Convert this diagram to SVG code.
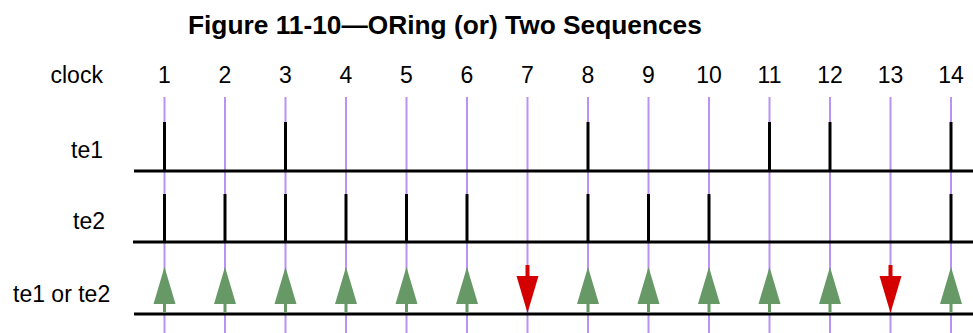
<svg xmlns="http://www.w3.org/2000/svg" xmlns:xlink="http://www.w3.org/1999/xlink" width="973" height="333" viewBox="0 0 973 333">
<style>
text{font-family:"Liberation Sans",Arial,sans-serif;fill:#000}
.t{font-size:26.3px;font-weight:bold}
.l{font-size:23px}
.n{font-size:23px;text-anchor:middle}
.grid line{stroke:#b892f5;stroke-width:2}
.base{stroke:#000;stroke-width:3}
.tick{stroke:#000;stroke-width:3}
</style>
<defs>
<g id="up"><polygon points="-11,304 0,267 11,304" fill="#669966"/><rect x="-1.5" y="303" width="3" height="10" fill="#669966"/></g>
<g id="down"><rect x="-2" y="265" width="4" height="12" fill="#d40000"/><polygon points="-11,276 11,276 0,313" fill="#d40000"/></g>
</defs>
<rect width="973" height="333" fill="#fff"/>
<text class="t" x="188" y="34">Figure 11-10—ORing (or) Two Sequences</text>
<g id="labels">
<text class="l" x="50.5" y="83">clock</text>
<text class="l" x="71" y="157.5">te1</text>
<text class="l" x="73" y="229">te2</text>
<text class="l" x="13" y="301.5">te1 or te2</text>
</g>
<g id="clock-numbers">
<text class="n" x="164.5" y="83">1</text>
<text class="n" x="225" y="83">2</text>
<text class="n" x="285.5" y="83">3</text>
<text class="n" x="346" y="83">4</text>
<text class="n" x="406.5" y="83">5</text>
<text class="n" x="467" y="83">6</text>
<text class="n" x="527.5" y="83">7</text>
<text class="n" x="588" y="83">8</text>
<text class="n" x="648.5" y="83">9</text>
<text class="n" x="709" y="83">10</text>
<text class="n" x="769.5" y="83">11</text>
<text class="n" x="830" y="83">12</text>
<text class="n" x="890.5" y="83">13</text>
<text class="n" x="951" y="83">14</text>
</g>
<g id="grid" class="grid">
<line x1="164.5" y1="97" x2="164.5" y2="333"/>
<line x1="225" y1="97" x2="225" y2="333"/>
<line x1="285.5" y1="97" x2="285.5" y2="333"/>
<line x1="346" y1="97" x2="346" y2="333"/>
<line x1="406.5" y1="97" x2="406.5" y2="333"/>
<line x1="467" y1="97" x2="467" y2="333"/>
<line x1="527.5" y1="97" x2="527.5" y2="333"/>
<line x1="588" y1="97" x2="588" y2="333"/>
<line x1="648.5" y1="97" x2="648.5" y2="333"/>
<line x1="709" y1="97" x2="709" y2="333"/>
<line x1="769.5" y1="97" x2="769.5" y2="333"/>
<line x1="830" y1="97" x2="830" y2="333"/>
<line x1="890.5" y1="97" x2="890.5" y2="333"/>
<line x1="951" y1="97" x2="951" y2="333"/>
</g>
<g id="te1">
<line class="base" x1="134" y1="171" x2="973" y2="171"/>
<line class="tick" x1="164.5" y1="122" x2="164.5" y2="171"/>
<line class="tick" x1="285.5" y1="122" x2="285.5" y2="171"/>
<line class="tick" x1="588" y1="122" x2="588" y2="171"/>
<line class="tick" x1="769.5" y1="122" x2="769.5" y2="171"/>
<line class="tick" x1="830" y1="122" x2="830" y2="171"/>
<line class="tick" x1="951" y1="122" x2="951" y2="171"/>
</g>
<g id="te2">
<line class="base" x1="133" y1="242" x2="973" y2="242"/>
<line class="tick" x1="164.5" y1="194" x2="164.5" y2="242"/>
<line class="tick" x1="225" y1="194" x2="225" y2="242"/>
<line class="tick" x1="285.5" y1="194" x2="285.5" y2="242"/>
<line class="tick" x1="346" y1="194" x2="346" y2="242"/>
<line class="tick" x1="406.5" y1="194" x2="406.5" y2="242"/>
<line class="tick" x1="467" y1="194" x2="467" y2="242"/>
<line class="tick" x1="588" y1="194" x2="588" y2="242"/>
<line class="tick" x1="648.5" y1="194" x2="648.5" y2="242"/>
<line class="tick" x1="709" y1="194" x2="709" y2="242"/>
<line class="tick" x1="951" y1="194" x2="951" y2="242"/>
</g>
<g id="te1-or-te2">
<line class="base" x1="134" y1="314" x2="973" y2="314"/>
<use href="#up" x="164.5"/>
<use href="#up" x="225"/>
<use href="#up" x="285.5"/>
<use href="#up" x="346"/>
<use href="#up" x="406.5"/>
<use href="#up" x="467"/>
<use href="#down" x="527.5"/>
<use href="#up" x="588"/>
<use href="#up" x="648.5"/>
<use href="#up" x="709"/>
<use href="#up" x="769.5"/>
<use href="#up" x="830"/>
<use href="#down" x="890.5"/>
<use href="#up" x="951"/>
</g>
</svg>
